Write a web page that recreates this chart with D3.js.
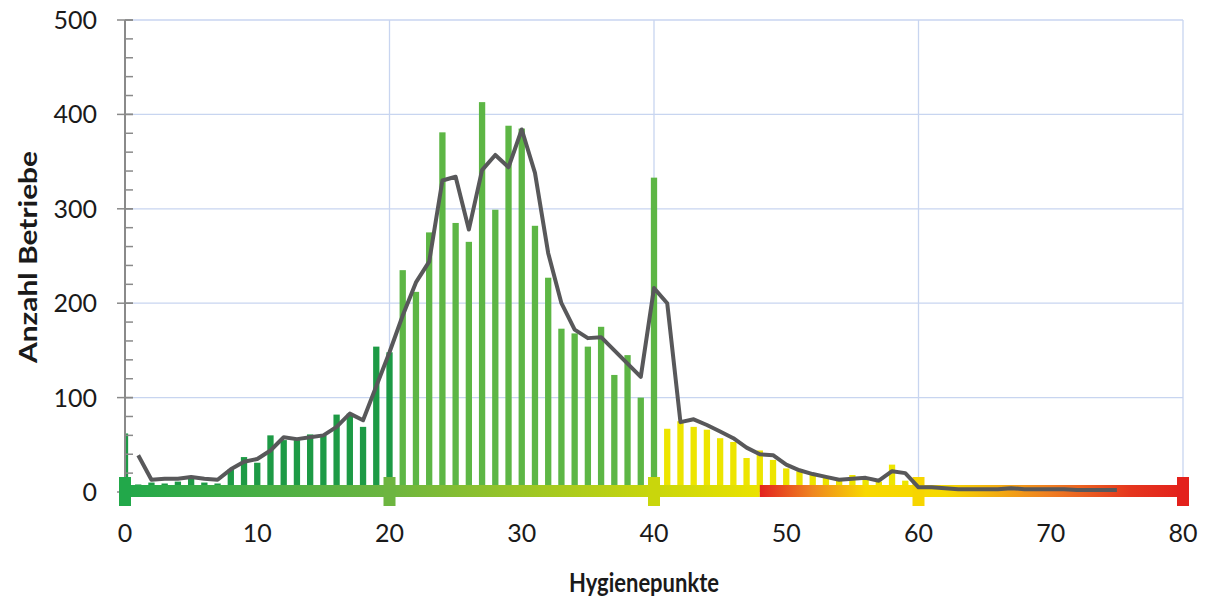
<!DOCTYPE html>
<html>
<head>
<meta charset="utf-8">
<script src="https://cdn.jsdelivr.net/npm/d3@7"></script>
<style>
  html, body { margin: 0; padding: 0; background: #ffffff; }
  svg { display: block; }
  text { font-family: Lato, "Open Sans", sans-serif; fill: #1a1a1a; }
</style>
</head>
<body>
<svg id="chart" width="1205" height="603"></svg>
<script>
// ---- data ----
const barScores = d3.range(0, 76);
const barValues = [62, 8, 10, 9, 11, 16, 10, 9, 24, 37,
  31, 60, 55, 55, 61, 60, 82, 83, 69, 154,
  148, 235, 212, 275, 381, 285, 265, 413, 299, 388,
  385, 282, 227, 173, 168, 154, 175, 124, 145, 100,
  333, 67, 75, 69, 66, 57, 53, 36, 44, 34,
  25, 22, 18, 15, 13, 18, 13, 11, 29, 12,
  15, 4, 3, 3, 2, 3, 2, 2, 2, 2,
  1, 1, 2, 1, 1, 1];
const lineScores = d3.range(1, 76);
const lineValues = [39, 13, 14, 14, 16, 14, 13, 24, 32,
  35, 44, 58, 56, 58, 60, 69, 83, 76, 112,
  148, 187, 222, 244, 330, 334, 278, 341, 357, 344,
  384, 338, 253, 200, 172, 163, 164, 150, 136, 122,
  216, 200, 74, 77, 71, 64, 57, 47, 40, 39,
  29, 23, 19, 16, 13, 14, 15, 12, 22, 20,
  5, 5, 4, 3, 3, 3, 3, 4, 3, 3,
  3, 3, 2, 2, 2, 2];
const xTicks = [0, 10, 20, 30, 40, 50, 60, 70, 80];
const yTicks = [0, 100, 200, 300, 400, 500];
const yMinorTicks = d3.range(0, 501, 20);
const xGridTicks = [20, 40, 60, 80];
const markerScores = [0, 20, 40, 60, 80];
const markerColors = ["#22a84a", "#6db540", "#c9d60c", "#f7d500", "#e3211c"];
const bandLowStops = [[0, "#22a84a"], [20, "#6db540"], [40, "#c9d60c"], [48, "#ebe200"]];
const bandHighStops = [[48, "#e3221f"], [52, "#ef8620"], [56, "#f8d800"], [62, "#f6d900"], [70, "#ef7d22"], [76, "#e5361e"], [80, "#e3211c"]];
const xTitle = "Hygienepunkte";
const yTitle = "Anzahl Betriebe";

// ---- layout ----
const svg = d3.select("#chart");
const x = d3.scaleLinear().domain([0, 80]).range([125, 1183]);
const y = d3.scaleLinear().domain([0, 500]).range([492, 20]);
const barColor = d3.scaleThreshold().domain([20.5, 40.5]).range(["#1d9a45", "#5db645", "#ede500"]);

svg.append("defs").append("clipPath").attr("id", "plotclip")
  .append("rect").attr("x", x(0)).attr("y", 0).attr("width", x(80) - x(0) + 10).attr("height", 603);

// gridlines
const grid = svg.append("g");
grid.selectAll("line.h").data(yTicks.filter(d => d > 0)).join("line")
  .attr("x1", x(0)).attr("x2", x(80))
  .attr("y1", d => y(d)).attr("y2", d => y(d))
  .attr("stroke", "#c8d5f0").attr("stroke-width", 1.3);
grid.selectAll("line.v").data(xGridTicks).join("line")
  .attr("x1", d => x(d)).attr("x2", d => x(d))
  .attr("y1", y(500)).attr("y2", y(0))
  .attr("stroke", "#c8d5f0").attr("stroke-width", 1.3);

// bars
const bw = 6.3;
svg.append("g").attr("clip-path", "url(#plotclip)")
  .selectAll("rect").data(barScores).join("rect")
  .attr("x", (d) => x(d) - bw / 2)
  .attr("y", (d, i) => y(barValues[i]))
  .attr("width", bw)
  .attr("height", (d, i) => y(0) - y(barValues[i]))
  .attr("fill", d => barColor(d));

// y axis
const yAxisG = svg.append("g");
yAxisG.append("line").attr("x1", x(0)).attr("x2", x(0)).attr("y1", y(500)).attr("y2", y(0) + 8)
  .attr("stroke", "#8a8a8a").attr("stroke-width", 2);
yAxisG.selectAll("line.minor").data(yMinorTicks).join("line")
  .attr("x1", x(0)).attr("x2", x(0) + 8)
  .attr("y1", d => y(d)).attr("y2", d => y(d))
  .attr("stroke", "#8a8a8a").attr("stroke-width", 1.5);
yAxisG.selectAll("line.major").data(yTicks).join("line")
  .attr("x1", x(0) - 8).attr("x2", x(0) + 8)
  .attr("y1", d => y(d)).attr("y2", d => y(d))
  .attr("stroke", "#8a8a8a").attr("stroke-width", 1.5);
yAxisG.selectAll("text").data(yTicks).join("text")
  .attr("x", 97).attr("y", d => y(d)).attr("dy", "0.36em")
  .attr("text-anchor", "end").attr("font-size", 25)
  .text(d => d);

// colour band
const defs = svg.select("defs");
function grad(id, stops) {
  const g = defs.append("linearGradient").attr("id", id)
    .attr("gradientUnits", "userSpaceOnUse")
    .attr("x1", x(stops[0][0])).attr("x2", x(stops[stops.length - 1][0]))
    .attr("y1", 0).attr("y2", 0);
  const span = stops[stops.length - 1][0] - stops[0][0];
  g.selectAll("stop").data(stops).join("stop")
    .attr("offset", d => (d[0] - stops[0][0]) / span)
    .attr("stop-color", d => d[1]);
}
grad("bandLow", bandLowStops);
grad("bandHigh", bandHighStops);
const bandY = 485, bandH = 12;
svg.append("rect").attr("x", x(0)).attr("y", bandY).attr("width", x(48) - x(0)).attr("height", bandH).attr("fill", "url(#bandLow)");
svg.append("rect").attr("x", x(48)).attr("y", bandY).attr("width", x(80) - x(48)).attr("height", bandH).attr("fill", "url(#bandHigh)");
svg.append("g").selectAll("rect").data(markerScores).join("rect")
  .attr("x", d => x(d) - 6).attr("y", 477).attr("width", 12).attr("height", 29)
  .attr("fill", (d, i) => markerColors[i]);

// line
const line = d3.line().x(d => x(d)).y((d, i) => y(lineValues[i]));
svg.append("path").datum(lineScores)
  .attr("d", line)
  .attr("fill", "none").attr("stroke", "#58585a").attr("stroke-width", 4)
  .attr("stroke-linejoin", "round").attr("stroke-linecap", "butt");

// x tick labels
svg.append("g").selectAll("text").data(xTicks).join("text")
  .attr("x", d => x(d)).attr("y", 533).attr("dy", "0.36em")
  .attr("text-anchor", "middle").attr("font-size", 25)
  .text(d => d);

// titles
svg.append("text").attr("x", 644).attr("y", 583).attr("dy", "0.36em")
  .attr("text-anchor", "middle").attr("font-size", 26).attr("font-weight", "bold")
  .attr("textLength", 150).attr("lengthAdjust", "spacingAndGlyphs")
  .text(xTitle);
svg.append("text").attr("transform", "translate(28,257) rotate(-90)").attr("dy", "0.36em")
  .attr("text-anchor", "middle").attr("font-size", 25).attr("font-weight", "bold")
  .attr("textLength", 212).attr("lengthAdjust", "spacingAndGlyphs")
  .text(yTitle);
</script>
</body>
</html>
